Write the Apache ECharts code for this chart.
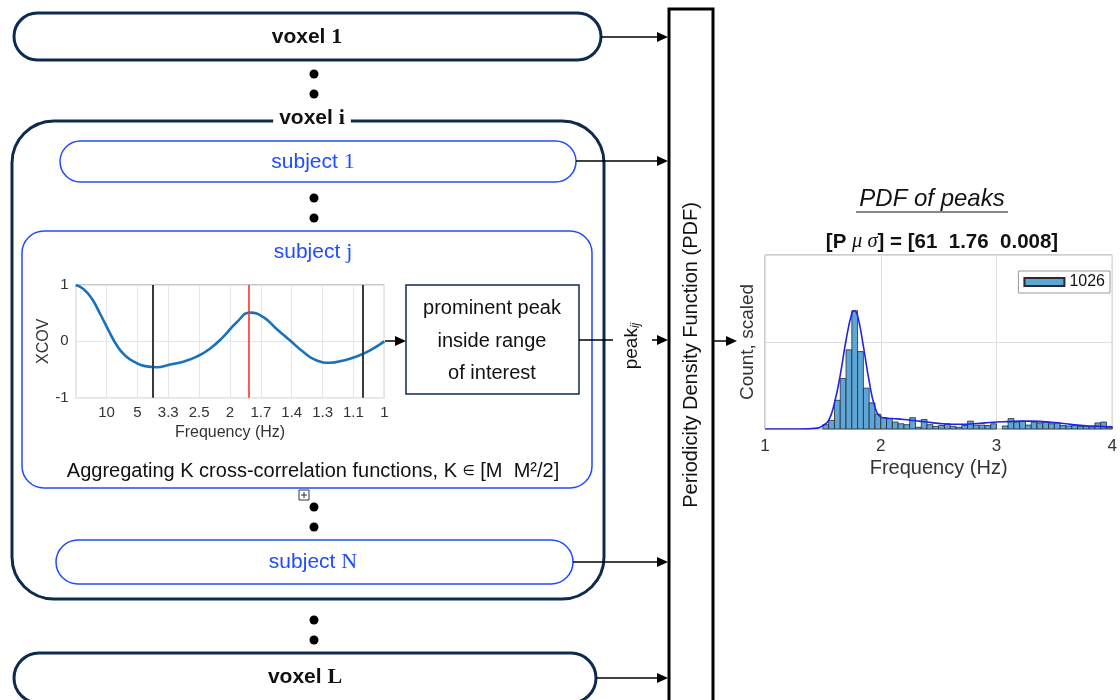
<!DOCTYPE html>
<html>
<head>
<meta charset="utf-8">
<title>Periodicity Density Function</title>
<script src="https://cdn.jsdelivr.net/npm/echarts@6.0.0/dist/echarts.min.js"></script>
<style>
  html, body { margin: 0; padding: 0; background: #fff; }
  #chart { width: 1120px; height: 700px; }
</style>
</head>
<body>
<div id="chart"></div>
<script>
// cross-correlation of one subject (x = lag in s, labelled as 1/lag in Hz)
const xcovLag = [0, 0.025, 0.052, 0.079, 0.106, 0.133, 0.16, 0.192, 0.225, 0.262, 0.306, 0.349, 0.392, 0.435,
  0.478, 0.522, 0.565, 0.608, 0.651, 0.694, 0.738, 0.781, 0.824, 0.867, 0.91, 0.954, 1.0];
const xcovValue = [1.0, 0.93, 0.76, 0.49, 0.2, -0.07, -0.25, -0.37, -0.44, -0.46, -0.41, -0.36, -0.27, -0.13,
  0.08, 0.34, 0.51, 0.43, 0.22, 0.02, -0.19, -0.34, -0.38, -0.34, -0.27, -0.16, 0];
const xcovTickLabels = ['', '10', '5', '3.3', '2.5', '2', '1.7', '1.4', '1.3', '1.1', '1'];
const xcovYTickLabels = ['-1', '0', '1'];
const rangeMarkers = [0.25, 0.925];   // range of interest (black)
const peakMarker = [0.565];           // prominent peak (red)

// histogram of peaks
const pdfBinLeft = [1.50, 1.55, 1.60, 1.65, 1.70, 1.75, 1.80, 1.85, 1.90, 1.95,
  2.00, 2.05, 2.10, 2.15, 2.20, 2.25, 2.30, 2.35, 2.40, 2.45,
  2.50, 2.55, 2.60, 2.65, 2.70, 2.75, 2.80, 2.85, 2.90, 2.95,
  3.00, 3.05, 3.10, 3.15, 3.20, 3.25, 3.30, 3.35, 3.40, 3.45,
  3.50, 3.55, 3.60, 3.65, 3.70, 3.75, 3.80, 3.85, 3.90, 3.95];
const pdfBinWidth = 0.05;
const pdfCount = [0.05, 0.10, 0.33, 0.58, 0.91, 1.36, 0.89, 0.47, 0.30, 0.17,
  0.13, 0.12, 0.08, 0.06, 0.05, 0.13, 0.02, 0.11, 0.05, 0.03,
  0.04, 0.06, 0.03, 0.02, 0.04, 0.09, 0.045, 0.045, 0.04, 0.06,
  0.0, 0.035, 0.12, 0.08, 0.09, 0.045, 0.08, 0.07, 0.08, 0.06,
  0.07, 0.04, 0.035, 0.04, 0.03, 0.035, 0.025, 0.07, 0.08, 0.03];
const pdfFitX = [1.0, 1.3, 1.45, 1.5, 1.55, 1.6, 1.65, 1.7, 1.75, 1.77, 1.8, 1.85, 1.9, 1.95, 2.0, 2.05, 2.1,
  2.2, 2.3, 2.4, 2.5, 2.6, 2.7, 2.8, 2.9, 3.0, 3.1, 3.2, 3.3, 3.4, 3.5, 3.6, 3.7, 3.8, 3.9, 4.0];
const pdfFitY = [0, 0, 0.01, 0.04, 0.1, 0.3, 0.62, 1.02, 1.33, 1.36, 1.3, 0.95, 0.55, 0.25, 0.14, 0.125, 0.12,
  0.11, 0.095, 0.08, 0.065, 0.055, 0.055, 0.06, 0.07, 0.08, 0.085, 0.09, 0.09, 0.085, 0.075, 0.06, 0.045, 0.035, 0.03, 0.02];
const pdfXTickLabels = ['1', '2', '3', '4'];
const pdfTotal = '1026';

const SANS = '"Liberation Sans", Arial, Helvetica, "DejaVu Sans", sans-serif';
const SERIF = '"Liberation Serif", "Times New Roman", "DejaVu Serif", serif';
const NAVY = '#0e2a4e';
const BLUE = '#1f4cff';

const chart = echarts.init(document.getElementById('chart'));

// --- diagram helpers ---
function box(x, y, w, h, r, stroke, lw) {
  return { type: 'rect', shape: { x: x, y: y, width: w, height: h, r: r },
    style: { fill: 'none', stroke: stroke, lineWidth: lw } };
}
function arrow(x1, y, x2) {
  return [
    { type: 'line', shape: { x1: x1, y1: y, x2: x2 - 8, y2: y }, style: { stroke: '#000', lineWidth: 1.5 } },
    { type: 'polygon', shape: { points: [[x2, y], [x2 - 11, y - 5], [x2 - 11, y + 5]] }, style: { fill: '#000' } }
  ];
}
function dots(x, ys) {
  return ys.map(y => ({ type: 'circle', shape: { cx: x, cy: y, r: 4.5 }, style: { fill: '#000' } }));
}
function label(x, y, text, rich, extra) {
  return Object.assign({ type: 'text', x: x, y: y,
    style: Object.assign({ text: text, rich: rich, align: 'center', verticalAlign: 'middle' }, extra || {}) });
}
const voxelRich = {
  a: { fontFamily: SANS, fontWeight: 'bold', fontSize: 21, fill: '#111' },
  b: { fontFamily: SERIF, fontWeight: 'bold', fontSize: 22, fill: '#111' }
};
const subjRich = {
  a: { fontFamily: SANS, fontSize: 21, fill: BLUE },
  b: { fontFamily: SERIF, fontSize: 22, fill: BLUE }
};
const plainRich = {
  a: { fontFamily: SANS, fontSize: 20, fill: '#111' },
  e: { fontFamily: SANS, fontSize: 14, fill: '#111' }
};

let g = [];
// voxel 1
g.push(box(14, 13, 587, 47, 23.5, NAVY, 3));
g.push(label(307, 37, '{a|voxel }{b|1}', voxelRich));
g = g.concat(arrow(601, 37, 668));
g = g.concat(dots(314, [74, 94]));
// voxel i
g.push(box(12, 121, 592, 478, 42, NAVY, 3));
g.push(label(312, 118, '{a|voxel }{b|i}', voxelRich, { backgroundColor: '#fff', padding: [0, 6, 0, 6] }));
// subject 1
g.push(box(60, 141, 516, 41, 20.5, BLUE, 1.5));
g.push(label(313, 162, '{a|subject }{b|1}', subjRich));
g = g.concat(arrow(576, 161, 668));
g = g.concat(dots(314, [198, 218]));
// subject j
g.push(box(22, 231, 570, 257, 22, BLUE, 1.5));
g.push(label(313, 252, '{a|subject }{b|j}', subjRich));
// prominent peak box
g.push(box(406, 285, 173, 109, 0, NAVY, 1.5));
g.push(label(492, 308, '{a|prominent peak}', plainRich));
g.push(label(492, 341, '{a|inside range}', plainRich));
g.push(label(492, 373, '{a|of interest}', plainRich));
g = g.concat(arrow(385, 341, 406));
g.push({ type: 'line', shape: { x1: 579, y1: 340, x2: 613, y2: 340 }, style: { stroke: '#000', lineWidth: 1.5 } });
g.push(Object.assign(label(632, 346, '{a|peak}{s|ij}', {
  a: { fontFamily: SANS, fontSize: 19, fill: '#111', verticalAlign: 'bottom' },
  s: { fontFamily: SANS, fontSize: 12, fontStyle: 'italic', fill: '#111', verticalAlign: 'bottom' }
}), { rotation: Math.PI / 2 }));
g = g.concat(arrow(652, 340, 668));
g.push(label(313, 471, '{a|Aggregating K cross-correlation functions, K }{e|\u2208}{a| [M  M\u00b2/2]}', plainRich));
// small expand glyph
g.push({ type: 'rect', shape: { x: 299, y: 490, width: 10, height: 10 }, style: { fill: '#fff', stroke: '#333', lineWidth: 1 } });
g.push({ type: 'line', shape: { x1: 301, y1: 495, x2: 307, y2: 495 }, style: { stroke: '#333', lineWidth: 1 } });
g.push({ type: 'line', shape: { x1: 304, y1: 492, x2: 304, y2: 498 }, style: { stroke: '#333', lineWidth: 1 } });
g = g.concat(dots(314, [507, 527]));
// subject N
g.push(box(56, 540, 517, 44, 22, BLUE, 1.5));
g.push(label(313, 562, '{a|subject }{b|N}', subjRich));
g = g.concat(arrow(573, 562, 668));
g = g.concat(dots(314, [620, 640]));
// voxel L
g.push(box(14, 653, 582, 50, 25, NAVY, 3));
g.push(label(305, 677, '{a|voxel }{b|L}', voxelRich));
g = g.concat(arrow(596, 678, 668));
// PDF column
g.push(box(669, 9, 44, 720, 0, '#000', 3));
g.push(Object.assign(label(691, 355, '{a|Periodicity Density Function (PDF)}', plainRich), { rotation: Math.PI / 2 }));
g = g.concat(arrow(713, 341, 737));
// histogram titles
g.push(label(932, 199, '{a|PDF of peaks}', { a: { fontFamily: SANS, fontSize: 24, fontStyle: 'italic', fill: '#111' } }));
g.push({ type: 'line', shape: { x1: 856, y1: 212, x2: 1008, y2: 212 }, style: { stroke: '#111', lineWidth: 1.2 } });
g.push(label(942, 242, '{b|[P }{m|\u03bc \u03c3}{b|] = [61  1.76  0.008]}', {
  b: { fontFamily: SANS, fontSize: 20.5, fontWeight: 'bold', fill: '#111' },
  m: { fontFamily: SERIF, fontSize: 20.5, fontStyle: 'italic', fill: '#111' }
}));

const xcovData = xcovLag.map((x, i) => [x, xcovValue[i]]);
const pdfBars = pdfBinLeft.map((x, i) => [x, pdfCount[i]]);
const pdfFit = pdfFitX.map((x, i) => [x, pdfFitY[i]]);

const axisText = { color: '#333', fontFamily: SANS };

chart.setOption({
  animation: false,
  backgroundColor: '#fff',
  graphic: g,
  legend: {
    data: [{ name: pdfTotal, icon: 'rect' }],
    right: 10, top: 271,
    itemWidth: 40, itemHeight: 8,
    padding: [3, 5, 3, 5],
    borderColor: '#999', borderWidth: 1, borderRadius: 0,
    backgroundColor: '#fff',
    textStyle: { fontSize: 16, color: '#111', fontFamily: SANS }
  },
  grid: [
    { left: 75.7, top: 285, width: 308.6, height: 112.7, show: true, borderColor: '#8f8f8f', borderWidth: 1, containLabel: false },
    { left: 765, top: 255, width: 354, height: 174, show: true, borderColor: '#9a9a9a', borderWidth: 1, containLabel: false }
  ],
  xAxis: [
    {
      gridIndex: 0, type: 'value', min: 0, max: 1, interval: 0.1,
      name: 'Frequency (Hz)', nameLocation: 'middle', nameGap: 27,
      nameTextStyle: Object.assign({ fontSize: 16 }, axisText),
      axisLine: { show: false }, axisTick: { show: false },
      axisLabel: Object.assign({ fontSize: 15, margin: 8, formatter: v => xcovTickLabels[Math.round(v * 10)] }, axisText),
      splitLine: { show: true, lineStyle: { color: '#e6e6e6' } }
    },
    {
      gridIndex: 1, type: 'value', min: 1, max: 4, interval: 1,
      name: 'Frequency (Hz)', nameLocation: 'middle', nameGap: 29,
      nameTextStyle: Object.assign({ fontSize: 20 }, axisText),
      axisLine: { show: false }, axisTick: { show: false },
      axisLabel: Object.assign({ fontSize: 17, margin: 9, formatter: v => pdfXTickLabels[Math.round(v) - 1] }, axisText),
      splitLine: { show: true, lineStyle: { color: '#dedede' } }
    }
  ],
  yAxis: [
    {
      gridIndex: 0, type: 'value', min: -1, max: 1, interval: 1,
      name: 'XCOV', nameLocation: 'middle', nameGap: 24,
      nameTextStyle: Object.assign({ fontSize: 16 }, axisText),
      axisLine: { show: false }, axisTick: { show: false },
      axisLabel: Object.assign({ fontSize: 15, margin: 7, formatter: v => xcovYTickLabels[Math.round(v) + 1] }, axisText),
      splitLine: { show: true, lineStyle: { color: '#e6e6e6' } }
    },
    {
      gridIndex: 1, type: 'value', min: 0, max: 2, interval: 1,
      name: 'Count, scaled', nameLocation: 'middle', nameGap: 8,
      nameTextStyle: Object.assign({ fontSize: 19 }, axisText),
      axisLine: { show: false }, axisTick: { show: false },
      axisLabel: { show: false },
      splitLine: { show: true, lineStyle: { color: '#dedede' } }
    }
  ],
  series: [
    {
      type: 'line', xAxisIndex: 0, yAxisIndex: 0,
      data: xcovData, smooth: true, showSymbol: false,
      lineStyle: { color: '#1a72bb', width: 2.6 },
      markLine: {
        silent: true, symbol: 'none', label: { show: false },
        data: rangeMarkers.map(v => ({ xAxis: v, lineStyle: { color: '#3a3a3a', width: 2, type: 'solid' } }))
          .concat(peakMarker.map(v => ({ xAxis: v, lineStyle: { color: '#ff3030', width: 1.6, type: 'solid' } })))
      }
    },
    {
      name: pdfTotal, type: 'custom', xAxisIndex: 1, yAxisIndex: 1,
      data: pdfBars,
      itemStyle: { color: '#5ca6d8', borderColor: '#2b2b2b', borderWidth: 0.8 },
      renderItem: function (params, api) {
        const x0 = api.value(0);
        const h = api.value(1);
        if (h <= 0) return null;
        const p0 = api.coord([x0, h]);
        const p1 = api.coord([x0 + pdfBinWidth, 0]);
        return {
          type: 'rect',
          shape: { x: p0[0], y: p0[1], width: p1[0] - p0[0], height: p1[1] - p0[1] },
          style: { fill: '#5ca6d8', stroke: '#2b2b2b', lineWidth: 0.8 }
        };
      }
    },
    {
      type: 'line', xAxisIndex: 1, yAxisIndex: 1,
      data: pdfFit, smooth: true, showSymbol: false, z: 5,
      lineStyle: { color: '#2323e6', width: 1.6 }
    }
  ]
});
</script>
</body>
</html>
